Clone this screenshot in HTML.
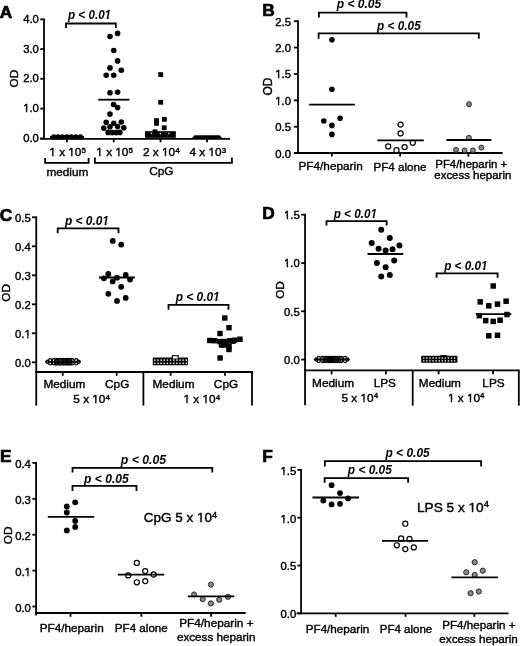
<!DOCTYPE html>
<html><head><meta charset="utf-8"><title>Figure</title>
<style>
html,body{margin:0;padding:0;background:#fff;}
body{width:520px;height:646px;overflow:hidden;}
svg{display:block;filter:grayscale(1);}
text{font-family:"Liberation Sans",sans-serif;fill:#000;stroke:#000;stroke-width:0.4px;}
text[font-weight="bold"]{stroke-width:0.1px;}
text.pl{stroke-width:0.7px;}
text.pv{stroke-width:0px;stroke:none;}
</style></head>
<body>
<svg width="520" height="646" viewBox="0 0 520 646">
<rect width="520" height="646" fill="#fff"/>
<text x="-0.20" y="18.40" font-size="17.3" text-anchor="start" font-weight="bold" font-style="normal" class="pl">A</text>
<line x1="44.00" y1="18.50" x2="44.00" y2="139.20" stroke="#000" stroke-width="1.8"/>
<line x1="40.30" y1="19.40" x2="44.00" y2="19.40" stroke="#000" stroke-width="1.8"/>
<text x="38.90" y="23.00" font-size="11.3" text-anchor="end" font-weight="normal" font-style="normal">4.0</text>
<line x1="40.30" y1="49.10" x2="44.00" y2="49.10" stroke="#000" stroke-width="1.8"/>
<text x="38.90" y="52.70" font-size="11.3" text-anchor="end" font-weight="normal" font-style="normal">3.0</text>
<line x1="40.30" y1="78.80" x2="44.00" y2="78.80" stroke="#000" stroke-width="1.8"/>
<text x="38.90" y="82.40" font-size="11.3" text-anchor="end" font-weight="normal" font-style="normal">2.0</text>
<line x1="40.30" y1="108.60" x2="44.00" y2="108.60" stroke="#000" stroke-width="1.8"/>
<text x="38.90" y="112.20" font-size="11.3" text-anchor="end" font-weight="normal" font-style="normal">1.0</text>
<line x1="40.30" y1="138.40" x2="44.00" y2="138.40" stroke="#000" stroke-width="1.8"/>
<text x="38.90" y="142.00" font-size="11.3" text-anchor="end" font-weight="normal" font-style="normal">0.0</text>
<line x1="40.20" y1="138.80" x2="230.00" y2="138.80" stroke="#000" stroke-width="1.8"/>
<line x1="67.00" y1="138.80" x2="67.00" y2="142.30" stroke="#000" stroke-width="1.8"/>
<line x1="113.75" y1="138.80" x2="113.75" y2="142.30" stroke="#000" stroke-width="1.8"/>
<line x1="160.50" y1="138.80" x2="160.50" y2="142.30" stroke="#000" stroke-width="1.8"/>
<line x1="207.00" y1="138.80" x2="207.00" y2="142.30" stroke="#000" stroke-width="1.8"/>
<text x="67.60" y="156.30" font-size="11.8" text-anchor="middle">1 x 10<tspan dy="-3.5" font-size="8.0">5</tspan></text>
<text x="114.60" y="156.30" font-size="11.8" text-anchor="middle">1 x 10<tspan dy="-3.5" font-size="8.0">5</tspan></text>
<text x="161.30" y="156.30" font-size="11.8" text-anchor="middle">2 x 10<tspan dy="-3.5" font-size="8.0">4</tspan></text>
<text x="207.80" y="156.30" font-size="11.8" text-anchor="middle">4 x 10<tspan dy="-3.5" font-size="8.0">3</tspan></text>
<polyline points="45.10,158.00 45.10,162.80 88.60,162.80 88.60,158.00" fill="none" stroke="#000" stroke-width="1.8" stroke-linejoin="miter" stroke-linecap="butt"/>
<polyline points="94.90,157.60 94.90,162.80 231.90,162.80 231.90,157.60" fill="none" stroke="#000" stroke-width="1.8" stroke-linejoin="miter" stroke-linecap="butt"/>
<text x="67.40" y="176.20" font-size="11.8" text-anchor="middle" font-weight="normal" font-style="normal">medium</text>
<text x="161.30" y="174.60" font-size="11.8" text-anchor="middle" font-weight="normal" font-style="normal">CpG</text>
<text x="0" y="0" font-size="11.8" text-anchor="middle" transform="translate(14.40,78.60) rotate(-90)" dominant-baseline="central">OD</text>
<polyline points="66.00,28.00 66.00,23.50 115.80,23.50 115.80,28.00" fill="none" stroke="#000" stroke-width="1.8" stroke-linejoin="miter" stroke-linecap="butt"/>
<text x="89.55" y="19.10" font-size="12.2" text-anchor="middle" font-weight="bold" font-style="italic" textLength="43.1" lengthAdjust="spacingAndGlyphs" class="pv">p &lt; 0.01</text>
<circle cx="53.80" cy="137.00" r="2.7" fill="#000"/>
<circle cx="58.20" cy="137.00" r="2.7" fill="#000"/>
<circle cx="62.60" cy="137.00" r="2.7" fill="#000"/>
<circle cx="67.00" cy="137.00" r="2.7" fill="#000"/>
<circle cx="71.40" cy="137.00" r="2.7" fill="#000"/>
<circle cx="75.80" cy="137.00" r="2.7" fill="#000"/>
<circle cx="80.40" cy="137.00" r="2.7" fill="#000"/>
<circle cx="117.60" cy="33.40" r="2.8" fill="#000"/>
<circle cx="110.00" cy="36.50" r="2.8" fill="#000"/>
<circle cx="113.75" cy="50.50" r="2.8" fill="#000"/>
<circle cx="117.60" cy="60.90" r="2.8" fill="#000"/>
<circle cx="110.00" cy="67.90" r="2.8" fill="#000"/>
<circle cx="121.30" cy="70.20" r="2.8" fill="#000"/>
<circle cx="106.20" cy="75.20" r="2.8" fill="#000"/>
<circle cx="113.75" cy="75.20" r="2.8" fill="#000"/>
<circle cx="110.00" cy="92.80" r="2.8" fill="#000"/>
<circle cx="117.60" cy="92.20" r="2.8" fill="#000"/>
<circle cx="113.60" cy="104.50" r="2.8" fill="#000"/>
<circle cx="117.60" cy="107.60" r="2.8" fill="#000"/>
<circle cx="110.00" cy="114.10" r="2.8" fill="#000"/>
<circle cx="106.20" cy="122.30" r="2.8" fill="#000"/>
<circle cx="113.75" cy="123.30" r="2.8" fill="#000"/>
<circle cx="121.30" cy="122.00" r="2.8" fill="#000"/>
<circle cx="103.75" cy="128.10" r="2.8" fill="#000"/>
<circle cx="110.00" cy="126.80" r="2.8" fill="#000"/>
<circle cx="117.60" cy="126.60" r="2.8" fill="#000"/>
<circle cx="123.80" cy="127.80" r="2.8" fill="#000"/>
<circle cx="108.10" cy="132.40" r="2.8" fill="#000"/>
<circle cx="112.10" cy="132.60" r="2.8" fill="#000"/>
<circle cx="116.00" cy="132.60" r="2.8" fill="#000"/>
<circle cx="119.80" cy="132.40" r="2.8" fill="#000"/>
<rect x="158.30" y="72.20" width="4.8" height="4.8" fill="#000"/>
<rect x="158.30" y="99.90" width="4.8" height="4.8" fill="#000"/>
<rect x="154.10" y="118.20" width="4.8" height="4.8" fill="#000"/>
<rect x="154.10" y="121.00" width="4.8" height="4.8" fill="#000"/>
<rect x="162.00" y="116.90" width="4.8" height="4.8" fill="#000"/>
<rect x="161.80" y="125.40" width="4.8" height="4.8" fill="#000"/>
<rect x="152.60" y="129.40" width="4.8" height="4.8" fill="#000"/>
<rect x="145.0" y="131.2" width="30.8" height="6.6" fill="#000"/>
<rect x="150.85" y="132.75" width="1.3" height="1.3" fill="#fff"/>
<rect x="159.75" y="132.95" width="1.3" height="1.3" fill="#fff"/>
<rect x="168.15" y="132.75" width="1.3" height="1.3" fill="#fff"/>
<polygon points="191.5,138.6 194.6,135.3 219.6,135.3 222.6,138.6" fill="#000"/>
<text x="262.20" y="15.80" font-size="17.3" text-anchor="start" font-weight="bold" font-style="normal" class="pl">B</text>
<line x1="298.00" y1="20.30" x2="298.00" y2="153.00" stroke="#000" stroke-width="1.8"/>
<line x1="293.90" y1="153.10" x2="298.00" y2="153.10" stroke="#000" stroke-width="1.8"/>
<text x="291.00" y="157.60" font-size="11.3" text-anchor="end" font-weight="normal" font-style="normal">0.0</text>
<line x1="293.90" y1="126.72" x2="298.00" y2="126.72" stroke="#000" stroke-width="1.8"/>
<text x="291.00" y="131.22" font-size="11.3" text-anchor="end" font-weight="normal" font-style="normal">0.5</text>
<line x1="293.90" y1="100.34" x2="298.00" y2="100.34" stroke="#000" stroke-width="1.8"/>
<text x="291.00" y="104.84" font-size="11.3" text-anchor="end" font-weight="normal" font-style="normal">1.0</text>
<line x1="293.90" y1="73.96" x2="298.00" y2="73.96" stroke="#000" stroke-width="1.8"/>
<text x="291.00" y="78.46" font-size="11.3" text-anchor="end" font-weight="normal" font-style="normal">1.5</text>
<line x1="293.90" y1="47.58" x2="298.00" y2="47.58" stroke="#000" stroke-width="1.8"/>
<text x="291.00" y="52.08" font-size="11.3" text-anchor="end" font-weight="normal" font-style="normal">2.0</text>
<line x1="293.90" y1="21.20" x2="298.00" y2="21.20" stroke="#000" stroke-width="1.8"/>
<text x="291.00" y="25.70" font-size="11.3" text-anchor="end" font-weight="normal" font-style="normal">2.5</text>
<line x1="293.90" y1="153.00" x2="502.70" y2="153.00" stroke="#000" stroke-width="1.8"/>
<line x1="331.90" y1="153.00" x2="331.90" y2="156.60" stroke="#000" stroke-width="1.8"/>
<line x1="400.10" y1="153.00" x2="400.10" y2="156.60" stroke="#000" stroke-width="1.8"/>
<line x1="468.40" y1="153.00" x2="468.40" y2="156.60" stroke="#000" stroke-width="1.8"/>
<text x="330.60" y="170.30" font-size="11.8" text-anchor="middle" font-weight="normal" font-style="normal" textLength="64.3" lengthAdjust="spacingAndGlyphs">PF4/heparin</text>
<text x="400.00" y="170.70" font-size="11.8" text-anchor="middle" font-weight="normal" font-style="normal" textLength="53" lengthAdjust="spacingAndGlyphs">PF4 alone</text>
<text x="471.20" y="167.50" font-size="11.8" text-anchor="middle" font-weight="normal" font-style="normal" textLength="71.8" lengthAdjust="spacingAndGlyphs">PF4/heparin +</text>
<text x="472.80" y="179.30" font-size="11.8" text-anchor="middle" font-weight="normal" font-style="normal" textLength="77" lengthAdjust="spacingAndGlyphs">excess heparin</text>
<text x="0" y="0" font-size="12" text-anchor="middle" transform="translate(267.60,86.50) rotate(-90)" dominant-baseline="central">OD</text>
<polyline points="318.90,17.60 318.90,12.70 406.50,12.70 406.50,17.60" fill="none" stroke="#000" stroke-width="1.8" stroke-linejoin="miter" stroke-linecap="butt"/>
<text x="359.00" y="8.00" font-size="12.2" text-anchor="middle" font-weight="bold" font-style="italic" textLength="44.6" lengthAdjust="spacingAndGlyphs" class="pv">p &lt; 0.05</text>
<polyline points="318.60,38.80 318.60,33.40 478.80,33.40 478.80,38.80" fill="none" stroke="#000" stroke-width="1.8" stroke-linejoin="miter" stroke-linecap="butt"/>
<text x="398.90" y="29.90" font-size="12.2" text-anchor="middle" font-weight="bold" font-style="italic" textLength="43.6" lengthAdjust="spacingAndGlyphs" class="pv">p &lt; 0.05</text>
<circle cx="331.90" cy="39.80" r="2.8" fill="#000"/>
<circle cx="331.90" cy="89.30" r="2.8" fill="#000"/>
<circle cx="323.80" cy="121.00" r="2.8" fill="#000"/>
<circle cx="340.10" cy="118.30" r="2.8" fill="#000"/>
<circle cx="331.90" cy="125.40" r="2.8" fill="#000"/>
<circle cx="331.90" cy="134.40" r="2.8" fill="#000"/>
<circle cx="400.60" cy="124.60" r="2.55" fill="#fff" stroke="#000" stroke-width="1.2"/>
<circle cx="400.60" cy="133.40" r="2.55" fill="#fff" stroke="#000" stroke-width="1.2"/>
<circle cx="388.20" cy="146.40" r="2.55" fill="#fff" stroke="#000" stroke-width="1.2"/>
<circle cx="396.50" cy="150.20" r="2.55" fill="#fff" stroke="#000" stroke-width="1.2"/>
<circle cx="404.60" cy="147.10" r="2.55" fill="#fff" stroke="#000" stroke-width="1.2"/>
<circle cx="412.80" cy="142.80" r="2.55" fill="#fff" stroke="#000" stroke-width="1.2"/>
<circle cx="469.00" cy="104.20" r="2.5" fill="#878787" stroke="#1e1e1e" stroke-width="0.9"/>
<circle cx="468.90" cy="137.80" r="2.5" fill="#878787" stroke="#1e1e1e" stroke-width="0.9"/>
<circle cx="456.00" cy="149.90" r="2.5" fill="#878787" stroke="#1e1e1e" stroke-width="0.9"/>
<circle cx="464.60" cy="150.40" r="2.5" fill="#878787" stroke="#1e1e1e" stroke-width="0.9"/>
<circle cx="472.90" cy="150.40" r="2.5" fill="#878787" stroke="#1e1e1e" stroke-width="0.9"/>
<circle cx="481.40" cy="147.60" r="2.5" fill="#878787" stroke="#1e1e1e" stroke-width="0.9"/>
<text x="-0.20" y="220.70" font-size="17.3" text-anchor="start" font-weight="bold" font-style="normal" class="pl">C</text>
<line x1="36.25" y1="216.40" x2="36.25" y2="405.60" stroke="#000" stroke-width="1.8"/>
<line x1="32.00" y1="362.30" x2="36.25" y2="362.30" stroke="#000" stroke-width="1.8"/>
<text x="30.80" y="366.60" font-size="11.3" text-anchor="end" font-weight="normal" font-style="normal">0.0</text>
<line x1="32.00" y1="333.30" x2="36.25" y2="333.30" stroke="#000" stroke-width="1.8"/>
<text x="30.80" y="337.60" font-size="11.3" text-anchor="end" font-weight="normal" font-style="normal">0.1</text>
<line x1="32.00" y1="304.30" x2="36.25" y2="304.30" stroke="#000" stroke-width="1.8"/>
<text x="30.80" y="308.60" font-size="11.3" text-anchor="end" font-weight="normal" font-style="normal">0.2</text>
<line x1="32.00" y1="275.30" x2="36.25" y2="275.30" stroke="#000" stroke-width="1.8"/>
<text x="30.80" y="279.60" font-size="11.3" text-anchor="end" font-weight="normal" font-style="normal">0.3</text>
<line x1="32.00" y1="246.30" x2="36.25" y2="246.30" stroke="#000" stroke-width="1.8"/>
<text x="30.80" y="250.60" font-size="11.3" text-anchor="end" font-weight="normal" font-style="normal">0.4</text>
<line x1="32.00" y1="217.30" x2="36.25" y2="217.30" stroke="#000" stroke-width="1.8"/>
<text x="30.80" y="221.60" font-size="11.3" text-anchor="end" font-weight="normal" font-style="normal">0.5</text>
<line x1="35.35" y1="372.00" x2="252.90" y2="372.00" stroke="#000" stroke-width="1.8"/>
<line x1="143.40" y1="372.00" x2="143.40" y2="405.60" stroke="#000" stroke-width="1.8"/>
<line x1="252.00" y1="372.00" x2="252.00" y2="405.60" stroke="#000" stroke-width="1.8"/>
<line x1="62.70" y1="372.00" x2="62.70" y2="375.80" stroke="#000" stroke-width="1.8"/>
<line x1="116.70" y1="372.00" x2="116.70" y2="375.80" stroke="#000" stroke-width="1.8"/>
<line x1="170.70" y1="372.00" x2="170.70" y2="375.80" stroke="#000" stroke-width="1.8"/>
<line x1="225.00" y1="372.00" x2="225.00" y2="375.80" stroke="#000" stroke-width="1.8"/>
<text x="64.40" y="388.00" font-size="11.8" text-anchor="middle" font-weight="normal" font-style="normal">Medium</text>
<text x="117.20" y="388.00" font-size="11.8" text-anchor="middle" font-weight="normal" font-style="normal">CpG</text>
<text x="91.60" y="403.00" font-size="11.8" text-anchor="middle">5 x 10<tspan dy="-3.5" font-size="8.0">4</tspan></text>
<text x="173.50" y="388.00" font-size="11.8" text-anchor="middle" font-weight="normal" font-style="normal">Medium</text>
<text x="226.00" y="388.00" font-size="11.8" text-anchor="middle" font-weight="normal" font-style="normal">CpG</text>
<text x="201.80" y="403.30" font-size="11.8" text-anchor="middle">1 x 10<tspan dy="-3.5" font-size="8.0">4</tspan></text>
<text x="0" y="0" font-size="11.8" text-anchor="middle" transform="translate(5.70,292.80) rotate(-90)" dominant-baseline="central">OD</text>
<polyline points="57.70,233.30 57.70,228.40 118.50,228.40 118.50,233.30" fill="none" stroke="#000" stroke-width="1.8" stroke-linejoin="miter" stroke-linecap="butt"/>
<text x="86.95" y="225.00" font-size="12.2" text-anchor="middle" font-weight="bold" font-style="italic" textLength="44.1" lengthAdjust="spacingAndGlyphs" class="pv">p &lt; 0.01</text>
<polyline points="168.50,309.80 168.50,304.90 228.50,304.90 228.50,309.80" fill="none" stroke="#000" stroke-width="1.8" stroke-linejoin="miter" stroke-linecap="butt"/>
<text x="197.70" y="301.30" font-size="12.2" text-anchor="middle" font-weight="bold" font-style="italic" textLength="44.0" lengthAdjust="spacingAndGlyphs" class="pv">p &lt; 0.01</text>
<line x1="45.00" y1="361.80" x2="80.90" y2="361.80" stroke="#000" stroke-width="1.3"/>
<circle cx="47.60" cy="361.80" r="1.6" fill="none" stroke="#000" stroke-width="1.2"/>
<circle cx="78.50" cy="361.80" r="1.6" fill="none" stroke="#000" stroke-width="1.2"/>
<circle cx="50.10" cy="360.20" r="1.55" fill="none" stroke="#000" stroke-width="1.2"/>
<circle cx="50.10" cy="363.40" r="1.55" fill="none" stroke="#000" stroke-width="1.2"/>
<circle cx="53.84" cy="360.20" r="1.55" fill="none" stroke="#000" stroke-width="1.2"/>
<circle cx="53.84" cy="363.40" r="1.55" fill="none" stroke="#000" stroke-width="1.2"/>
<circle cx="57.58" cy="360.20" r="1.55" fill="none" stroke="#000" stroke-width="1.2"/>
<circle cx="57.58" cy="363.40" r="1.55" fill="none" stroke="#000" stroke-width="1.2"/>
<circle cx="61.32" cy="360.20" r="1.55" fill="none" stroke="#000" stroke-width="1.2"/>
<circle cx="61.32" cy="363.40" r="1.55" fill="none" stroke="#000" stroke-width="1.2"/>
<circle cx="65.06" cy="360.20" r="1.55" fill="none" stroke="#000" stroke-width="1.2"/>
<circle cx="65.06" cy="363.40" r="1.55" fill="none" stroke="#000" stroke-width="1.2"/>
<circle cx="68.80" cy="360.20" r="1.55" fill="none" stroke="#000" stroke-width="1.2"/>
<circle cx="68.80" cy="363.40" r="1.55" fill="none" stroke="#000" stroke-width="1.2"/>
<circle cx="72.54" cy="360.20" r="1.55" fill="none" stroke="#000" stroke-width="1.2"/>
<circle cx="72.54" cy="363.40" r="1.55" fill="none" stroke="#000" stroke-width="1.2"/>
<circle cx="76.28" cy="360.20" r="1.55" fill="none" stroke="#000" stroke-width="1.2"/>
<circle cx="76.28" cy="363.40" r="1.55" fill="none" stroke="#000" stroke-width="1.2"/>
<circle cx="55.90" cy="360.00" r="1.55" fill="none" stroke="#000" stroke-width="1.2"/>
<circle cx="55.90" cy="363.60" r="1.55" fill="none" stroke="#000" stroke-width="1.2"/>
<circle cx="59.60" cy="360.00" r="1.55" fill="none" stroke="#000" stroke-width="1.2"/>
<circle cx="59.60" cy="363.60" r="1.55" fill="none" stroke="#000" stroke-width="1.2"/>
<circle cx="63.40" cy="360.00" r="1.55" fill="none" stroke="#000" stroke-width="1.2"/>
<circle cx="63.40" cy="363.60" r="1.55" fill="none" stroke="#000" stroke-width="1.2"/>
<circle cx="67.10" cy="360.00" r="1.55" fill="none" stroke="#000" stroke-width="1.2"/>
<circle cx="67.10" cy="363.60" r="1.55" fill="none" stroke="#000" stroke-width="1.2"/>
<circle cx="70.50" cy="360.00" r="1.55" fill="none" stroke="#000" stroke-width="1.2"/>
<circle cx="70.50" cy="363.60" r="1.55" fill="none" stroke="#000" stroke-width="1.2"/>
<circle cx="112.70" cy="240.90" r="2.9" fill="#000"/>
<circle cx="121.20" cy="244.60" r="2.9" fill="#000"/>
<circle cx="108.30" cy="274.00" r="2.9" fill="#000"/>
<circle cx="103.90" cy="278.30" r="2.9" fill="#000"/>
<circle cx="112.70" cy="281.40" r="2.9" fill="#000"/>
<circle cx="117.00" cy="277.70" r="2.9" fill="#000"/>
<circle cx="125.70" cy="274.90" r="2.9" fill="#000"/>
<circle cx="130.00" cy="279.60" r="2.9" fill="#000"/>
<circle cx="121.20" cy="286.80" r="2.9" fill="#000"/>
<circle cx="108.30" cy="293.80" r="2.9" fill="#000"/>
<circle cx="125.70" cy="297.90" r="2.9" fill="#000"/>
<circle cx="117.00" cy="300.90" r="2.9" fill="#000"/>
<rect x="152.8" y="357.6" width="35.1" height="7.7" rx="0.8" fill="#000"/>
<rect x="172.3" y="355.7" width="5.9" height="3.4" fill="#fff" stroke="#000" stroke-width="1.1"/>
<rect x="154.10" y="359.40" width="1.4" height="1.4" fill="#fff"/>
<rect x="154.10" y="362.60" width="1.4" height="1.4" fill="#fff"/>
<rect x="157.25" y="359.40" width="1.4" height="1.4" fill="#fff"/>
<rect x="157.25" y="362.60" width="1.4" height="1.4" fill="#fff"/>
<rect x="160.40" y="359.40" width="1.4" height="1.4" fill="#fff"/>
<rect x="160.40" y="362.60" width="1.4" height="1.4" fill="#fff"/>
<rect x="163.55" y="359.40" width="1.4" height="1.4" fill="#fff"/>
<rect x="163.55" y="362.60" width="1.4" height="1.4" fill="#fff"/>
<rect x="166.70" y="359.40" width="1.4" height="1.4" fill="#fff"/>
<rect x="166.70" y="362.60" width="1.4" height="1.4" fill="#fff"/>
<rect x="169.85" y="359.40" width="1.4" height="1.4" fill="#fff"/>
<rect x="169.85" y="362.60" width="1.4" height="1.4" fill="#fff"/>
<rect x="173.00" y="359.40" width="1.4" height="1.4" fill="#fff"/>
<rect x="173.00" y="362.60" width="1.4" height="1.4" fill="#fff"/>
<rect x="176.15" y="359.40" width="1.4" height="1.4" fill="#fff"/>
<rect x="176.15" y="362.60" width="1.4" height="1.4" fill="#fff"/>
<rect x="179.30" y="359.40" width="1.4" height="1.4" fill="#fff"/>
<rect x="179.30" y="362.60" width="1.4" height="1.4" fill="#fff"/>
<rect x="182.45" y="359.40" width="1.4" height="1.4" fill="#fff"/>
<rect x="182.45" y="362.60" width="1.4" height="1.4" fill="#fff"/>
<rect x="185.60" y="359.40" width="1.4" height="1.4" fill="#fff"/>
<rect x="185.60" y="362.60" width="1.4" height="1.4" fill="#fff"/>
<rect x="222.10" y="315.30" width="5.4" height="5.4" fill="#000"/>
<rect x="226.30" y="325.00" width="5.4" height="5.4" fill="#000"/>
<rect x="217.30" y="330.80" width="5.4" height="5.4" fill="#000"/>
<rect x="207.10" y="337.80" width="5.4" height="5.4" fill="#000"/>
<rect x="211.80" y="338.00" width="5.4" height="5.4" fill="#000"/>
<rect x="217.10" y="338.90" width="5.4" height="5.4" fill="#000"/>
<rect x="221.10" y="338.90" width="5.4" height="5.4" fill="#000"/>
<rect x="218.80" y="342.30" width="5.4" height="5.4" fill="#000"/>
<rect x="221.30" y="342.30" width="5.4" height="5.4" fill="#000"/>
<rect x="226.30" y="343.70" width="5.4" height="5.4" fill="#000"/>
<rect x="226.30" y="346.80" width="5.4" height="5.4" fill="#000"/>
<rect x="223.80" y="341.10" width="5.4" height="5.4" fill="#000"/>
<rect x="226.80" y="338.10" width="5.4" height="5.4" fill="#000"/>
<rect x="230.30" y="338.50" width="5.4" height="5.4" fill="#000"/>
<rect x="231.70" y="337.50" width="5.4" height="5.4" fill="#000"/>
<rect x="237.20" y="336.50" width="5.4" height="5.4" fill="#000"/>
<rect x="217.40" y="355.30" width="5.4" height="5.4" fill="#000"/>
<text x="262.20" y="218.50" font-size="17.3" text-anchor="start" font-weight="bold" font-style="normal" class="pl">D</text>
<line x1="305.05" y1="213.80" x2="305.05" y2="405.30" stroke="#000" stroke-width="1.8"/>
<line x1="301.20" y1="359.60" x2="305.05" y2="359.60" stroke="#000" stroke-width="1.8"/>
<text x="299.80" y="363.90" font-size="11.3" text-anchor="end" font-weight="normal" font-style="normal">0.0</text>
<line x1="301.20" y1="311.30" x2="305.05" y2="311.30" stroke="#000" stroke-width="1.8"/>
<text x="299.80" y="315.60" font-size="11.3" text-anchor="end" font-weight="normal" font-style="normal">0.5</text>
<line x1="301.20" y1="263.00" x2="305.05" y2="263.00" stroke="#000" stroke-width="1.8"/>
<text x="299.80" y="267.30" font-size="11.3" text-anchor="end" font-weight="normal" font-style="normal">1.0</text>
<line x1="301.20" y1="214.70" x2="305.05" y2="214.70" stroke="#000" stroke-width="1.8"/>
<text x="299.80" y="219.00" font-size="11.3" text-anchor="end" font-weight="normal" font-style="normal">1.5</text>
<line x1="304.15" y1="370.40" x2="519.70" y2="370.40" stroke="#000" stroke-width="1.8"/>
<line x1="412.70" y1="370.40" x2="412.70" y2="405.60" stroke="#000" stroke-width="1.8"/>
<line x1="518.80" y1="370.40" x2="518.80" y2="405.60" stroke="#000" stroke-width="1.8"/>
<line x1="331.60" y1="370.40" x2="331.60" y2="374.30" stroke="#000" stroke-width="1.8"/>
<line x1="385.90" y1="370.40" x2="385.90" y2="374.30" stroke="#000" stroke-width="1.8"/>
<line x1="438.60" y1="370.40" x2="438.60" y2="374.30" stroke="#000" stroke-width="1.8"/>
<line x1="493.10" y1="370.40" x2="493.10" y2="374.30" stroke="#000" stroke-width="1.8"/>
<text x="333.10" y="386.60" font-size="11.8" text-anchor="middle" font-weight="normal" font-style="normal">Medium</text>
<text x="384.80" y="386.60" font-size="11.8" text-anchor="middle" font-weight="normal" font-style="normal">LPS</text>
<text x="359.80" y="401.60" font-size="11.8" text-anchor="middle">5 x 10<tspan dy="-3.5" font-size="8.0">4</tspan></text>
<text x="439.80" y="386.60" font-size="11.8" text-anchor="middle" font-weight="normal" font-style="normal">Medium</text>
<text x="493.50" y="386.60" font-size="11.8" text-anchor="middle" font-weight="normal" font-style="normal">LPS</text>
<text x="466.20" y="401.60" font-size="11.8" text-anchor="middle">1 x 10<tspan dy="-3.5" font-size="8.0">4</tspan></text>
<text x="0" y="0" font-size="11.8" text-anchor="middle" transform="translate(279.80,290.00) rotate(-90)" dominant-baseline="central">OD</text>
<polyline points="326.50,225.60 326.50,221.20 386.60,221.20 386.60,225.60" fill="none" stroke="#000" stroke-width="1.8" stroke-linejoin="miter" stroke-linecap="butt"/>
<text x="355.35" y="217.80" font-size="12.2" text-anchor="middle" font-weight="bold" font-style="italic" textLength="43.3" lengthAdjust="spacingAndGlyphs" class="pv">p &lt; 0.01</text>
<polyline points="436.60,277.70 436.60,273.30 497.60,273.30 497.60,277.70" fill="none" stroke="#000" stroke-width="1.8" stroke-linejoin="miter" stroke-linecap="butt"/>
<text x="465.90" y="270.00" font-size="12.2" text-anchor="middle" font-weight="bold" font-style="italic" textLength="43.4" lengthAdjust="spacingAndGlyphs" class="pv">p &lt; 0.01</text>
<line x1="313.80" y1="359.50" x2="349.80" y2="359.50" stroke="#000" stroke-width="1.3"/>
<circle cx="316.50" cy="359.50" r="1.6" fill="none" stroke="#000" stroke-width="1.2"/>
<circle cx="347.20" cy="359.50" r="1.6" fill="none" stroke="#000" stroke-width="1.2"/>
<circle cx="318.70" cy="358.00" r="1.55" fill="none" stroke="#000" stroke-width="1.2"/>
<circle cx="318.70" cy="361.00" r="1.55" fill="none" stroke="#000" stroke-width="1.2"/>
<circle cx="322.47" cy="358.00" r="1.55" fill="none" stroke="#000" stroke-width="1.2"/>
<circle cx="322.47" cy="361.00" r="1.55" fill="none" stroke="#000" stroke-width="1.2"/>
<circle cx="326.24" cy="358.00" r="1.55" fill="none" stroke="#000" stroke-width="1.2"/>
<circle cx="326.24" cy="361.00" r="1.55" fill="none" stroke="#000" stroke-width="1.2"/>
<circle cx="330.01" cy="358.00" r="1.55" fill="none" stroke="#000" stroke-width="1.2"/>
<circle cx="330.01" cy="361.00" r="1.55" fill="none" stroke="#000" stroke-width="1.2"/>
<circle cx="333.78" cy="358.00" r="1.55" fill="none" stroke="#000" stroke-width="1.2"/>
<circle cx="333.78" cy="361.00" r="1.55" fill="none" stroke="#000" stroke-width="1.2"/>
<circle cx="337.55" cy="358.00" r="1.55" fill="none" stroke="#000" stroke-width="1.2"/>
<circle cx="337.55" cy="361.00" r="1.55" fill="none" stroke="#000" stroke-width="1.2"/>
<circle cx="341.32" cy="358.00" r="1.55" fill="none" stroke="#000" stroke-width="1.2"/>
<circle cx="341.32" cy="361.00" r="1.55" fill="none" stroke="#000" stroke-width="1.2"/>
<circle cx="345.09" cy="358.00" r="1.55" fill="none" stroke="#000" stroke-width="1.2"/>
<circle cx="345.09" cy="361.00" r="1.55" fill="none" stroke="#000" stroke-width="1.2"/>
<circle cx="324.50" cy="357.80" r="1.55" fill="none" stroke="#000" stroke-width="1.2"/>
<circle cx="324.50" cy="361.20" r="1.55" fill="none" stroke="#000" stroke-width="1.2"/>
<circle cx="328.20" cy="357.80" r="1.55" fill="none" stroke="#000" stroke-width="1.2"/>
<circle cx="328.20" cy="361.20" r="1.55" fill="none" stroke="#000" stroke-width="1.2"/>
<circle cx="332.00" cy="357.80" r="1.55" fill="none" stroke="#000" stroke-width="1.2"/>
<circle cx="332.00" cy="361.20" r="1.55" fill="none" stroke="#000" stroke-width="1.2"/>
<circle cx="335.80" cy="357.80" r="1.55" fill="none" stroke="#000" stroke-width="1.2"/>
<circle cx="335.80" cy="361.20" r="1.55" fill="none" stroke="#000" stroke-width="1.2"/>
<circle cx="339.50" cy="357.80" r="1.55" fill="none" stroke="#000" stroke-width="1.2"/>
<circle cx="339.50" cy="361.20" r="1.55" fill="none" stroke="#000" stroke-width="1.2"/>
<circle cx="381.20" cy="229.80" r="3.0" fill="#000"/>
<circle cx="389.80" cy="238.10" r="3.0" fill="#000"/>
<circle cx="371.70" cy="243.10" r="3.0" fill="#000"/>
<circle cx="399.40" cy="245.40" r="3.0" fill="#000"/>
<circle cx="378.60" cy="248.80" r="3.0" fill="#000"/>
<circle cx="385.60" cy="250.60" r="3.0" fill="#000"/>
<circle cx="392.50" cy="249.20" r="3.0" fill="#000"/>
<circle cx="376.90" cy="262.90" r="3.0" fill="#000"/>
<circle cx="394.20" cy="260.60" r="3.0" fill="#000"/>
<circle cx="385.60" cy="267.30" r="3.0" fill="#000"/>
<circle cx="381.20" cy="276.50" r="3.0" fill="#000"/>
<circle cx="389.80" cy="275.10" r="3.0" fill="#000"/>
<rect x="421.2" y="355.8" width="36.2" height="6.9" rx="0.8" fill="#000"/>
<rect x="440.3" y="355.0" width="6.8" height="2" fill="#000"/>
<rect x="423.10" y="357.40" width="1.4" height="1.3" fill="#fff"/>
<rect x="423.10" y="360.20" width="1.4" height="1.3" fill="#fff"/>
<rect x="426.18" y="357.40" width="1.4" height="1.3" fill="#fff"/>
<rect x="426.18" y="360.20" width="1.4" height="1.3" fill="#fff"/>
<rect x="429.26" y="357.40" width="1.4" height="1.3" fill="#fff"/>
<rect x="429.26" y="360.20" width="1.4" height="1.3" fill="#fff"/>
<rect x="432.34" y="357.40" width="1.4" height="1.3" fill="#fff"/>
<rect x="432.34" y="360.20" width="1.4" height="1.3" fill="#fff"/>
<rect x="435.42" y="357.40" width="1.4" height="1.3" fill="#fff"/>
<rect x="435.42" y="360.20" width="1.4" height="1.3" fill="#fff"/>
<rect x="438.50" y="357.40" width="1.4" height="1.3" fill="#fff"/>
<rect x="438.50" y="360.20" width="1.4" height="1.3" fill="#fff"/>
<rect x="441.58" y="357.40" width="1.4" height="1.3" fill="#fff"/>
<rect x="441.58" y="360.20" width="1.4" height="1.3" fill="#fff"/>
<rect x="444.66" y="357.40" width="1.4" height="1.3" fill="#fff"/>
<rect x="444.66" y="360.20" width="1.4" height="1.3" fill="#fff"/>
<rect x="447.74" y="357.40" width="1.4" height="1.3" fill="#fff"/>
<rect x="447.74" y="360.20" width="1.4" height="1.3" fill="#fff"/>
<rect x="450.82" y="357.40" width="1.4" height="1.3" fill="#fff"/>
<rect x="450.82" y="360.20" width="1.4" height="1.3" fill="#fff"/>
<rect x="453.90" y="357.40" width="1.4" height="1.3" fill="#fff"/>
<rect x="453.90" y="360.20" width="1.4" height="1.3" fill="#fff"/>
<rect x="490.45" y="283.25" width="5.5" height="5.5" fill="#000"/>
<rect x="477.45" y="299.15" width="5.5" height="5.5" fill="#000"/>
<rect x="486.05" y="303.05" width="5.5" height="5.5" fill="#000"/>
<rect x="494.75" y="301.35" width="5.5" height="5.5" fill="#000"/>
<rect x="503.35" y="298.45" width="5.5" height="5.5" fill="#000"/>
<rect x="476.55" y="312.95" width="5.5" height="5.5" fill="#000"/>
<rect x="504.25" y="311.75" width="5.5" height="5.5" fill="#000"/>
<rect x="482.95" y="317.85" width="5.5" height="5.5" fill="#000"/>
<rect x="490.45" y="318.65" width="5.5" height="5.5" fill="#000"/>
<rect x="497.35" y="317.45" width="5.5" height="5.5" fill="#000"/>
<rect x="486.05" y="333.05" width="5.5" height="5.5" fill="#000"/>
<rect x="494.75" y="332.55" width="5.5" height="5.5" fill="#000"/>
<text x="-0.10" y="461.60" font-size="17.3" text-anchor="start" font-weight="bold" font-style="normal" class="pl">E</text>
<line x1="36.10" y1="462.00" x2="36.10" y2="615.50" stroke="#000" stroke-width="1.8"/>
<line x1="32.40" y1="606.50" x2="36.10" y2="606.50" stroke="#000" stroke-width="1.8"/>
<text x="30.90" y="611.50" font-size="11.3" text-anchor="end" font-weight="normal" font-style="normal">0.0</text>
<line x1="32.40" y1="570.60" x2="36.10" y2="570.60" stroke="#000" stroke-width="1.8"/>
<text x="30.90" y="575.60" font-size="11.3" text-anchor="end" font-weight="normal" font-style="normal">0.1</text>
<line x1="32.40" y1="534.70" x2="36.10" y2="534.70" stroke="#000" stroke-width="1.8"/>
<text x="30.90" y="539.70" font-size="11.3" text-anchor="end" font-weight="normal" font-style="normal">0.2</text>
<line x1="32.40" y1="498.80" x2="36.10" y2="498.80" stroke="#000" stroke-width="1.8"/>
<text x="30.90" y="503.80" font-size="11.3" text-anchor="end" font-weight="normal" font-style="normal">0.3</text>
<line x1="32.40" y1="462.90" x2="36.10" y2="462.90" stroke="#000" stroke-width="1.8"/>
<text x="30.90" y="467.90" font-size="11.3" text-anchor="end" font-weight="normal" font-style="normal">0.4</text>
<line x1="35.20" y1="613.00" x2="245.70" y2="613.00" stroke="#000" stroke-width="1.8"/>
<line x1="70.50" y1="613.20" x2="70.50" y2="616.80" stroke="#000" stroke-width="1.8"/>
<line x1="141.40" y1="613.20" x2="141.40" y2="616.80" stroke="#000" stroke-width="1.8"/>
<line x1="211.10" y1="613.20" x2="211.10" y2="616.80" stroke="#000" stroke-width="1.8"/>
<text x="71.70" y="632.40" font-size="11.8" text-anchor="middle" font-weight="normal" font-style="normal" textLength="64" lengthAdjust="spacingAndGlyphs">PF4/heparin</text>
<text x="141.30" y="632.40" font-size="11.8" text-anchor="middle" font-weight="normal" font-style="normal" textLength="53" lengthAdjust="spacingAndGlyphs">PF4 alone</text>
<text x="216.40" y="627.40" font-size="11.8" text-anchor="middle" font-weight="normal" font-style="normal" textLength="74.3" lengthAdjust="spacingAndGlyphs">PF4/heparin +</text>
<text x="216.20" y="641.30" font-size="11.8" text-anchor="middle" font-weight="normal" font-style="normal" textLength="78.5" lengthAdjust="spacingAndGlyphs">excess heparin</text>
<text x="0" y="0" font-size="11.8" text-anchor="middle" transform="translate(8.20,535.30) rotate(-90)" dominant-baseline="central">OD</text>
<polyline points="72.50,472.50 72.50,467.80 212.30,467.80 212.30,472.50" fill="none" stroke="#000" stroke-width="1.8" stroke-linejoin="miter" stroke-linecap="butt"/>
<text x="143.50" y="464.20" font-size="12.2" text-anchor="middle" font-weight="bold" font-style="italic" textLength="45.4" lengthAdjust="spacingAndGlyphs" class="pv">p &lt; 0.05</text>
<polyline points="72.50,491.00 72.50,485.80 136.50,485.80 136.50,491.00" fill="none" stroke="#000" stroke-width="1.8" stroke-linejoin="miter" stroke-linecap="butt"/>
<text x="106.45" y="482.80" font-size="12.2" text-anchor="middle" font-weight="bold" font-style="italic" textLength="44.7" lengthAdjust="spacingAndGlyphs" class="pv">p &lt; 0.05</text>
<text x="180.50" y="522.20" font-size="13.5" text-anchor="middle">CpG 5 x 10<tspan dy="-4.3" font-size="9.2">4</tspan></text>
<circle cx="75.20" cy="502.30" r="2.9" fill="#000"/>
<circle cx="66.80" cy="506.50" r="2.9" fill="#000"/>
<circle cx="66.80" cy="512.50" r="2.9" fill="#000"/>
<circle cx="75.20" cy="520.90" r="2.9" fill="#000"/>
<circle cx="75.20" cy="526.90" r="2.9" fill="#000"/>
<circle cx="66.80" cy="530.40" r="2.9" fill="#000"/>
<circle cx="136.80" cy="562.90" r="2.55" fill="#fff" stroke="#000" stroke-width="1.2"/>
<circle cx="145.20" cy="571.10" r="2.55" fill="#fff" stroke="#000" stroke-width="1.2"/>
<circle cx="128.20" cy="575.40" r="2.55" fill="#fff" stroke="#000" stroke-width="1.2"/>
<circle cx="153.60" cy="574.50" r="2.55" fill="#fff" stroke="#000" stroke-width="1.2"/>
<circle cx="136.80" cy="582.30" r="2.55" fill="#fff" stroke="#000" stroke-width="1.2"/>
<circle cx="145.20" cy="581.10" r="2.55" fill="#fff" stroke="#000" stroke-width="1.2"/>
<circle cx="210.90" cy="584.60" r="2.6" fill="#878787" stroke="#1e1e1e" stroke-width="0.9"/>
<circle cx="194.10" cy="594.50" r="2.6" fill="#878787" stroke="#1e1e1e" stroke-width="0.9"/>
<circle cx="202.70" cy="599.10" r="2.6" fill="#878787" stroke="#1e1e1e" stroke-width="0.9"/>
<circle cx="210.90" cy="603.40" r="2.6" fill="#878787" stroke="#1e1e1e" stroke-width="0.9"/>
<circle cx="219.20" cy="599.80" r="2.6" fill="#878787" stroke="#1e1e1e" stroke-width="0.9"/>
<circle cx="227.90" cy="596.80" r="2.6" fill="#878787" stroke="#1e1e1e" stroke-width="0.9"/>
<text x="262.20" y="462.40" font-size="17.3" text-anchor="start" font-weight="bold" font-style="normal" class="pl">F</text>
<line x1="301.10" y1="469.10" x2="301.10" y2="614.30" stroke="#000" stroke-width="1.8"/>
<line x1="297.40" y1="613.30" x2="301.10" y2="613.30" stroke="#000" stroke-width="1.8"/>
<text x="296.30" y="618.10" font-size="11.3" text-anchor="end" font-weight="normal" font-style="normal">0.0</text>
<line x1="297.40" y1="565.50" x2="301.10" y2="565.50" stroke="#000" stroke-width="1.8"/>
<text x="296.30" y="570.30" font-size="11.3" text-anchor="end" font-weight="normal" font-style="normal">0.5</text>
<line x1="297.40" y1="517.70" x2="301.10" y2="517.70" stroke="#000" stroke-width="1.8"/>
<text x="296.30" y="522.50" font-size="11.3" text-anchor="end" font-weight="normal" font-style="normal">1.0</text>
<line x1="297.40" y1="469.90" x2="301.10" y2="469.90" stroke="#000" stroke-width="1.8"/>
<text x="296.30" y="474.70" font-size="11.3" text-anchor="end" font-weight="normal" font-style="normal">1.5</text>
<line x1="296.50" y1="613.45" x2="508.50" y2="613.45" stroke="#000" stroke-width="1.8"/>
<line x1="335.70" y1="613.20" x2="335.70" y2="616.80" stroke="#000" stroke-width="1.8"/>
<line x1="405.50" y1="613.20" x2="405.50" y2="616.80" stroke="#000" stroke-width="1.8"/>
<line x1="474.40" y1="613.20" x2="474.40" y2="616.80" stroke="#000" stroke-width="1.8"/>
<text x="337.50" y="633.30" font-size="11.8" text-anchor="middle" font-weight="normal" font-style="normal" textLength="63.5" lengthAdjust="spacingAndGlyphs">PF4/heparin</text>
<text x="406.00" y="633.30" font-size="11.8" text-anchor="middle" font-weight="normal" font-style="normal" textLength="52.6" lengthAdjust="spacingAndGlyphs">PF4 alone</text>
<text x="478.90" y="629.20" font-size="11.8" text-anchor="middle" font-weight="normal" font-style="normal" textLength="73.2" lengthAdjust="spacingAndGlyphs">PF4/heparin +</text>
<text x="478.60" y="643.10" font-size="11.8" text-anchor="middle" font-weight="normal" font-style="normal" textLength="78.5" lengthAdjust="spacingAndGlyphs">excess heparin</text>
<polyline points="324.85,466.40 324.85,461.20 481.10,461.20 481.10,466.40" fill="none" stroke="#000" stroke-width="1.8" stroke-linejoin="miter" stroke-linecap="butt"/>
<text x="407.60" y="457.40" font-size="12.2" text-anchor="middle" font-weight="bold" font-style="italic" textLength="44.2" lengthAdjust="spacingAndGlyphs" class="pv">p &lt; 0.05</text>
<polyline points="324.60,482.70 324.60,478.10 408.10,478.10 408.10,482.70" fill="none" stroke="#000" stroke-width="1.8" stroke-linejoin="miter" stroke-linecap="butt"/>
<text x="369.85" y="474.40" font-size="12.2" text-anchor="middle" font-weight="bold" font-style="italic" textLength="44.1" lengthAdjust="spacingAndGlyphs" class="pv">p &lt; 0.05</text>
<text x="453.00" y="511.70" font-size="13.2" text-anchor="middle" textLength="72" lengthAdjust="spacingAndGlyphs">LPS 5 x 10<tspan dy="-4.3" font-size="9.2">4</tspan></text>
<circle cx="331.60" cy="485.20" r="2.9" fill="#000"/>
<circle cx="340.00" cy="493.10" r="2.9" fill="#000"/>
<circle cx="348.10" cy="498.40" r="2.9" fill="#000"/>
<circle cx="323.30" cy="500.60" r="2.9" fill="#000"/>
<circle cx="331.60" cy="504.40" r="2.9" fill="#000"/>
<circle cx="340.00" cy="503.80" r="2.9" fill="#000"/>
<circle cx="405.30" cy="523.70" r="2.55" fill="#fff" stroke="#000" stroke-width="1.2"/>
<circle cx="401.10" cy="538.50" r="2.55" fill="#fff" stroke="#000" stroke-width="1.2"/>
<circle cx="409.50" cy="539.00" r="2.55" fill="#fff" stroke="#000" stroke-width="1.2"/>
<circle cx="396.80" cy="545.30" r="2.55" fill="#fff" stroke="#000" stroke-width="1.2"/>
<circle cx="405.30" cy="549.10" r="2.55" fill="#fff" stroke="#000" stroke-width="1.2"/>
<circle cx="413.80" cy="547.40" r="2.55" fill="#fff" stroke="#000" stroke-width="1.2"/>
<circle cx="474.70" cy="562.20" r="2.6" fill="#878787" stroke="#1e1e1e" stroke-width="0.9"/>
<circle cx="466.20" cy="572.30" r="2.6" fill="#878787" stroke="#1e1e1e" stroke-width="0.9"/>
<circle cx="482.80" cy="570.70" r="2.6" fill="#878787" stroke="#1e1e1e" stroke-width="0.9"/>
<circle cx="474.70" cy="575.00" r="2.6" fill="#878787" stroke="#1e1e1e" stroke-width="0.9"/>
<circle cx="470.60" cy="593.20" r="2.6" fill="#878787" stroke="#1e1e1e" stroke-width="0.9"/>
<circle cx="478.80" cy="591.50" r="2.6" fill="#878787" stroke="#1e1e1e" stroke-width="0.9"/>
<line x1="50.00" y1="137.00" x2="84.00" y2="137.00" stroke="#000" stroke-width="1.8"/>
<line x1="98.20" y1="99.70" x2="129.40" y2="99.70" stroke="#000" stroke-width="1.8"/>
<line x1="309.20" y1="104.60" x2="354.90" y2="104.60" stroke="#000" stroke-width="1.8"/>
<line x1="377.40" y1="140.40" x2="423.80" y2="140.40" stroke="#000" stroke-width="1.8"/>
<line x1="446.40" y1="140.00" x2="491.40" y2="140.00" stroke="#000" stroke-width="1.8"/>
<line x1="98.90" y1="277.50" x2="134.90" y2="277.50" stroke="#000" stroke-width="1.8"/>
<line x1="207.00" y1="340.60" x2="242.60" y2="340.60" stroke="#000" stroke-width="1.8"/>
<line x1="367.50" y1="254.00" x2="403.20" y2="254.00" stroke="#000" stroke-width="1.8"/>
<line x1="475.80" y1="314.20" x2="511.30" y2="314.20" stroke="#000" stroke-width="1.8"/>
<line x1="47.80" y1="516.90" x2="94.20" y2="516.90" stroke="#000" stroke-width="1.8"/>
<line x1="117.80" y1="574.60" x2="164.20" y2="574.60" stroke="#000" stroke-width="1.8"/>
<line x1="187.80" y1="596.30" x2="234.20" y2="596.30" stroke="#000" stroke-width="1.8"/>
<line x1="312.50" y1="497.50" x2="359.00" y2="497.50" stroke="#000" stroke-width="1.8"/>
<line x1="382.00" y1="540.90" x2="428.10" y2="540.90" stroke="#000" stroke-width="1.8"/>
<line x1="451.40" y1="577.40" x2="497.90" y2="577.40" stroke="#000" stroke-width="1.8"/>
<g id="f1fix" fill="#fff"><polygon points="23.40,113.80 25.81,113.80 25.81,110.61 23.40,110.61"/><polygon points="27.25,113.80 29.43,113.80 29.43,110.61 27.25,110.61"/><polygon points="49.53,157.90 52.05,157.90 52.05,154.67 49.53,154.67"/><polygon points="53.53,157.90 55.81,157.90 55.81,154.67 53.53,154.67"/><polygon points="68.53,157.90 71.06,157.90 71.06,154.67 68.53,154.67"/><polygon points="72.54,157.90 74.83,157.90 74.83,154.67 72.54,154.67"/><polygon points="96.53,157.90 99.05,157.90 99.05,154.67 96.53,154.67"/><polygon points="100.53,157.90 102.81,157.90 102.81,154.67 100.53,154.67"/><polygon points="115.53,157.90 118.06,157.90 118.06,154.67 115.53,154.67"/><polygon points="119.54,157.90 121.83,157.90 121.83,154.67 119.54,154.67"/><polygon points="162.23,157.90 164.76,157.90 164.76,154.67 162.23,154.67"/><polygon points="166.24,157.90 168.53,157.90 168.53,154.67 166.24,154.67"/><polygon points="208.73,157.90 211.26,157.90 211.26,154.67 208.73,154.67"/><polygon points="212.74,157.90 215.03,157.90 215.03,154.67 212.74,154.67"/><polygon points="104.37,19.70 106.58,19.70 107.00,17.37 104.94,17.37"/><polygon points="108.36,19.70 110.76,19.70 110.99,17.37 108.79,17.37"/><polygon points="275.50,106.44 277.91,106.44 277.91,103.25 275.50,103.25"/><polygon points="279.35,106.44 281.53,106.44 281.53,103.25 279.35,103.25"/><polygon points="275.50,80.06 277.91,80.06 277.91,76.87 275.50,76.87"/><polygon points="279.35,80.06 281.53,80.06 281.53,76.87 279.35,76.87"/><polygon points="24.71,339.20 27.12,339.20 27.12,336.01 24.71,336.01"/><polygon points="28.57,339.20 30.75,339.20 30.75,336.01 28.57,336.01"/><polygon points="92.53,404.60 95.06,404.60 95.06,401.37 92.53,401.37"/><polygon points="96.54,404.60 98.83,404.60 98.83,401.37 96.54,401.37"/><polygon points="183.73,404.90 186.25,404.90 186.25,401.67 183.73,401.67"/><polygon points="187.73,404.90 190.01,404.90 190.01,401.67 187.73,401.67"/><polygon points="202.73,404.90 205.26,404.90 205.26,401.67 202.73,401.67"/><polygon points="206.74,404.90 209.03,404.90 209.03,401.67 206.74,401.67"/><polygon points="102.11,225.60 104.38,225.60 104.80,223.27 102.70,223.27"/><polygon points="106.19,225.60 108.66,225.60 108.89,223.27 106.64,223.27"/><polygon points="212.83,301.90 215.09,301.90 215.51,299.57 213.41,299.57"/><polygon points="216.90,301.90 219.36,301.90 219.59,299.57 217.34,299.57"/><polygon points="284.30,268.90 286.71,268.90 286.71,265.71 284.30,265.71"/><polygon points="288.15,268.90 290.33,268.90 290.33,265.71 288.15,265.71"/><polygon points="284.30,220.60 286.71,220.60 286.71,217.41 284.30,217.41"/><polygon points="288.15,220.60 290.33,220.60 290.33,217.41 288.15,217.41"/><polygon points="360.73,403.20 363.26,403.20 363.26,399.97 360.73,399.97"/><polygon points="364.74,403.20 367.03,403.20 367.03,399.97 364.74,399.97"/><polygon points="448.13,403.20 450.65,403.20 450.65,399.97 448.13,399.97"/><polygon points="452.13,403.20 454.41,403.20 454.41,399.97 452.13,399.97"/><polygon points="467.13,403.20 469.66,403.20 469.66,399.97 467.13,399.97"/><polygon points="471.14,403.20 473.43,403.20 473.43,399.97 471.14,399.97"/><polygon points="370.24,218.40 372.46,218.40 372.88,216.07 370.81,216.07"/><polygon points="374.24,218.40 376.66,218.40 376.89,216.07 374.68,216.07"/><polygon points="480.82,270.60 483.05,270.60 483.47,268.27 481.40,268.27"/><polygon points="484.84,270.60 487.26,270.60 487.49,268.27 485.27,268.27"/><polygon points="24.81,577.20 27.22,577.20 27.22,574.01 24.81,574.01"/><polygon points="28.67,577.20 30.85,577.20 30.85,574.01 28.67,574.01"/><polygon points="197.32,523.80 200.23,523.80 200.23,520.44 197.32,520.44"/><polygon points="201.87,523.80 204.51,523.80 204.51,520.44 201.87,520.44"/><polygon points="280.80,524.10 283.21,524.10 283.21,520.91 280.80,520.91"/><polygon points="284.65,524.10 286.83,524.10 286.83,520.91 284.65,520.91"/><polygon points="280.80,476.30 283.21,476.30 283.21,473.11 280.80,473.11"/><polygon points="284.65,476.30 286.83,476.30 286.83,473.11 284.65,473.11"/><polygon points="468.80,513.30 471.74,513.30 471.74,509.96 468.80,509.96"/><polygon points="473.40,513.30 476.06,513.30 476.06,509.96 473.40,509.96"/></g>
</svg>
</body></html>
